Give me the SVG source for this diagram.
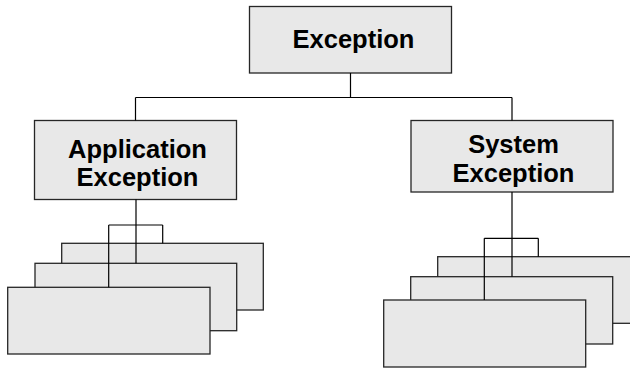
<svg xmlns="http://www.w3.org/2000/svg" width="630" height="368" viewBox="0 0 630 368">
<style>
.box{fill:#e8e8e8;stroke:#262626;stroke-width:1.3}
.lbl{font-family:"Liberation Sans",Arial,sans-serif;font-weight:bold;font-size:25.5px;fill:#000;text-anchor:middle}
.con{fill:none;stroke:#000;stroke-width:1.2}
</style>
<rect x="0" y="0" width="630" height="368" fill="#fff"/>
<g id="exception">
<rect class="box" x="249.5" y="6.5" width="202" height="66.5"/>
<text class="lbl" x="353.5" y="48.3">Exception</text>
</g>
<g id="application-exception">
<rect class="box" x="34.5" y="120.5" width="202" height="79"/>
<text class="lbl" x="137.5" y="157.5">Application</text>
<text class="lbl" x="137.5" y="185.5">Exception</text>
</g>
<g id="system-exception">
<rect class="box" x="411" y="120.5" width="202" height="71.5"/>
<text class="lbl" x="513.5" y="152.5">System</text>
<text class="lbl" x="513.5" y="181.5">Exception</text>
</g>
<g id="app-child-3"><rect class="box" x="61.7" y="243.3" width="201.6" height="66.7"/></g>
<g id="app-child-2"><rect class="box" x="35" y="263.3" width="201.7" height="67.4"/></g>
<g id="app-child-1"><rect class="box" x="7.7" y="287.3" width="202.3" height="66.7"/></g>
<g id="sys-child-3"><rect class="box" x="437.7" y="256.7" width="202" height="66.6"/></g>
<g id="sys-child-2"><rect class="box" x="410.7" y="276.7" width="202" height="67.3"/></g>
<g id="sys-child-1"><rect class="box" x="383.7" y="300" width="202" height="67"/></g>
<g id="connectors">
<path class="con" d="M350.5 73V97.5M135.5 97.5H512M135.5 97.5V120.5M512 97.5V120.5"/>
<path class="con" d="M136 199.5V263.3M108.7 225H162.7M108.7 225V287.3M162.7 225V243.3"/>
<path class="con" d="M512 192V276.7M484.3 238.3H538.3M484.3 238.3V300M538.3 238.3V256.7"/>
</g>
</svg>
